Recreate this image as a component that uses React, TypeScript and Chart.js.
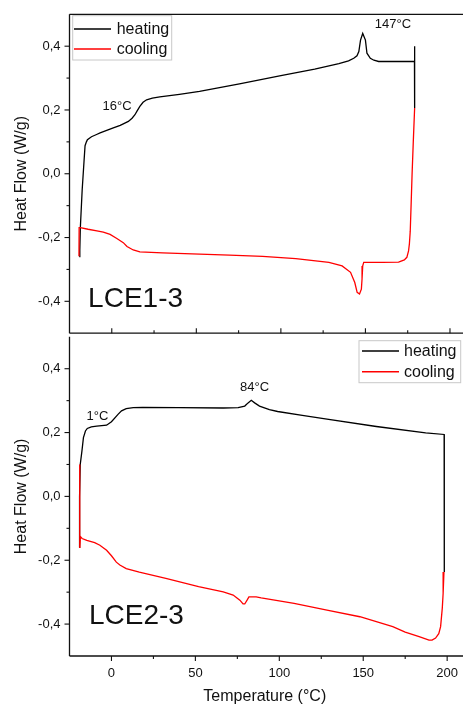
import React, { useEffect, useRef } from "react";
import { Chart, registerables } from "chart.js";

Chart.register(...registerables);

const FONT = '"Liberation Sans", Arial, Helvetica, sans-serif';

// ---- axis ticks ----
const xTicks = [0, 50, 100, 150, 200];
const xMinorTicks = [25, 75, 125, 175];
const yTicks = [-0.4, -0.2, 0, 0.2, 0.4];
const yMinorTicks = [-0.3, -0.1, 0.1, 0.3];
const seriesNames = ["heating", "cooling"];
const xTitle = "Temperature (°C)";
const yTitle = "Heat Flow (W/g)";

// ---- LCE1-3 ----
const lce1HeatT = [-19.2, -18.9, -18.6, -17.5, -16.4, -15.8, -15, -14.4, -12, -9, -6.9, -3, 0.9, 5, 9.8, 12, 13.7, 15, 16.6, 18.5, 20.6, 24, 28.4, 40, 51.9, 75.5, 100, 120, 134.3, 140, 143.1, 145, 146.1, 147.1, 148.4, 150, 150.9, 152.9, 155, 157.8, 170, 179, 179.1, 179.1];
const lce1HeatQ = [-0.26, -0.24, -0.17, -0.05, 0.04, 0.088, 0.1, 0.107, 0.116, 0.123, 0.128, 0.136, 0.144, 0.152, 0.164, 0.174, 0.185, 0.197, 0.211, 0.224, 0.232, 0.237, 0.241, 0.249, 0.258, 0.282, 0.308, 0.328, 0.345, 0.354, 0.362, 0.37, 0.383, 0.419, 0.44, 0.419, 0.378, 0.362, 0.356, 0.352, 0.352, 0.352, 0.4, 0.206];
const lce1CoolT = [179.1, 178.3, 177.6, 177, 176.5, 176, 175.5, 174.5, 173, 169.6, 160, 149, 148.4, 148, 147.6, 146.5, 145.1, 143.7, 141.2, 136.2, 128.4, 108.8, 89.2, 69.6, 51.9, 30, 16.6, 12.7, 9, 6.8, 3, -1, -5, -8.8, -14, -18.6, -19.3, -19.4];
const lce1CoolQ = [0.206, 0.1, 0.0, -0.1, -0.18, -0.22, -0.242, -0.262, -0.27, -0.277, -0.278, -0.278, -0.289, -0.33, -0.362, -0.377, -0.372, -0.341, -0.309, -0.289, -0.278, -0.266, -0.259, -0.255, -0.252, -0.248, -0.245, -0.239, -0.228, -0.216, -0.203, -0.19, -0.183, -0.179, -0.174, -0.169, -0.169, -0.259];

// ---- LCE2-3 ----
const lce2HeatT = [-19.2, -19, -18.6, -17.6, -16.7, -15.5, -14.4, -12, -8.8, -2.9, 0, 3.9, 6, 8.8, 13, 18.6, 40, 66.6, 75.5, 79.4, 81.4, 83.3, 85.3, 88.2, 94.1, 99, 113.7, 128.4, 157.8, 187.2, 198.2, 198.3];
const lce2HeatQ = [-0.16, 0.0, 0.1, 0.142, 0.184, 0.205, 0.213, 0.218, 0.22, 0.223, 0.234, 0.257, 0.268, 0.275, 0.278, 0.279, 0.278, 0.277, 0.278, 0.283, 0.293, 0.301, 0.293, 0.283, 0.272, 0.266, 0.254, 0.242, 0.219, 0.199, 0.194, -0.237];
const lce2CoolT = [198.1, 197.6, 197.1, 196.1, 195, 193.1, 191, 189.2, 183.3, 175, 167.6, 148, 128.4, 108.8, 89.2, 86.2, 81.9, 80.8, 79.4, 78.4, 76.5, 72.5, 66.6, 51.9, 32.4, 16.6, 8.8, 5, 2.9, 0, -2.9, -6.9, -10, -14.7, -17.5, -18.5, -18.8, -18.9];
const lce2CoolQ = [-0.237, -0.304, -0.35, -0.408, -0.43, -0.444, -0.45, -0.45, -0.439, -0.425, -0.408, -0.377, -0.356, -0.335, -0.318, -0.315, -0.315, -0.325, -0.337, -0.337, -0.325, -0.309, -0.299, -0.283, -0.257, -0.237, -0.226, -0.215, -0.206, -0.186, -0.169, -0.153, -0.145, -0.138, -0.132, -0.126, -0.16, 0.1];

// ---- annotations (data coordinates) ----
const lce1Notes = [
  { text: "16°C", x: 3.1, y: 0.21 },
  { text: "147°C", x: 166.3, y: 0.467 },
];
const lce2Notes = [
  { text: "1°C", x: -8.4, y: 0.251 },
  { text: "84°C", x: 85.3, y: 0.34 },
];

const X_MIN = -25;
const X_MAX = 207.7;
const W = 463;

const zip = (xs: number[], ys: number[]) => xs.map((x, i) => ({ x, y: ys[i] }));
const fmt = (v: number) => v.toFixed(1).replace(".", ",");

type PanelSpec = {
  heatT: number[]; heatQ: number[]; coolT: number[]; coolQ: number[];
  notes: { text: string; x: number; y: number }[];
  label: string; labelX: number; labelY: number;
  legend: { left: number; top: number; w: number; h: number; lineX0: number; lineX1: number; textX: number; rows: number[] };
  isBottom: boolean;
  padTop: number; padBottom: number;
};

function makePlugin(spec: PanelSpec) {
  return {
    id: "frame",
    afterDraw(chart: any) {
      const { ctx, chartArea } = chart;
      const { left, top, bottom } = chartArea;
      const x = chart.scales.x;
      const y = chart.scales.y;
      const line = (a: number, b: number, c: number, d: number) => {
        ctx.beginPath();
        ctx.moveTo(a, b);
        ctx.lineTo(c, d);
        ctx.stroke();
      };
      ctx.save();
      ctx.strokeStyle = "#111";
      ctx.lineWidth = 1.3;
      line(left, top, left, bottom);
      if (!spec.isBottom) line(left, top, chart.width, top);
      line(left, bottom, chart.width, bottom);
      ctx.lineWidth = 1.1;
      yTicks.forEach((v) => { const p = y.getPixelForValue(v); line(left - 5, p, left, p); });
      yMinorTicks.forEach((v) => { const p = y.getPixelForValue(v); line(left - 3, p, left, p); });
      const dir = spec.isBottom ? 1 : -1;
      xTicks.forEach((v) => { const p = x.getPixelForValue(v); line(p, bottom, p, bottom + dir * 5); });
      xMinorTicks.forEach((v) => { const p = x.getPixelForValue(v); line(p, bottom, p, bottom + dir * 3); });

      ctx.fillStyle = "#111";
      ctx.font = `13px ${FONT}`;
      ctx.textAlign = "center";
      ctx.textBaseline = "middle";
      spec.notes.forEach((n) => ctx.fillText(n.text, x.getPixelForValue(n.x), y.getPixelForValue(n.y)));

      ctx.font = `28px ${FONT}`;
      ctx.textAlign = "left";
      ctx.textBaseline = "alphabetic";
      ctx.fillText(spec.label, x.getPixelForValue(spec.labelX), y.getPixelForValue(spec.labelY));

      const L = spec.legend;
      ctx.strokeStyle = "#c8c8c8";
      ctx.lineWidth = 1;
      ctx.strokeRect(L.left, L.top, L.w, L.h);
      ctx.font = `16px ${FONT}`;
      ctx.textBaseline = "middle";
      chart.data.datasets.forEach((ds: any, i: number) => {
        ctx.strokeStyle = ds.borderColor;
        ctx.lineWidth = 1.5;
        line(L.lineX0, L.rows[i], L.lineX1, L.rows[i]);
        ctx.fillStyle = "#111";
        ctx.fillText(ds.label, L.textX, L.rows[i] + 1);
      });
      ctx.restore();
    },
  };
}

function buildConfig(spec: PanelSpec): any {
  const datasets = [
    { label: seriesNames[0], data: zip(spec.heatT, spec.heatQ), borderColor: "#000000", order: 1 },
    { label: seriesNames[1], data: zip(spec.coolT, spec.coolQ), borderColor: "#ff0000", order: 0 },
  ].map((d) => ({ ...d, showLine: true, pointRadius: 0, borderWidth: 1.3, tension: 0, fill: false }));
  return {
    type: "scatter",
    data: { datasets },
    options: {
      animation: false,
      responsive: false,
      maintainAspectRatio: false,
      layout: { padding: { left: 0, right: 0, top: spec.padTop, bottom: spec.padBottom } },
      plugins: { legend: { display: false }, tooltip: { enabled: false } },
      scales: {
        x: {
          type: "linear",
          display: spec.isBottom,
          min: X_MIN,
          max: X_MAX,
          afterBuildTicks: (s: any) => { s.ticks = xTicks.map((v) => ({ value: v })); },
          afterFit: (s: any) => { if (spec.isBottom) s.height = 48; },
          grid: { display: false, drawTicks: true, tickLength: 5 },
          border: { display: false },
          ticks: { font: { family: FONT, size: 13 }, color: "#111", padding: 5, maxRotation: 0, autoSkip: false, callback: (v: any) => String(v) },
          title: { display: true, text: xTitle, font: { family: FONT, size: 16 }, color: "#111", padding: { top: 0, bottom: -2 } },
        },
        y: {
          type: "linear",
          min: -0.5,
          max: 0.5,
          afterBuildTicks: (s: any) => { s.ticks = yTicks.map((v) => ({ value: v })); },
          afterFit: (s: any) => { s.width = 69.5; },
          grid: { display: false, drawTicks: true, tickLength: 5 },
          border: { display: false },
          ticks: { font: { family: FONT, size: 13 }, color: "#111", padding: 4, callback: (v: any) => fmt(Number(v)) },
          title: { display: true, text: yTitle, font: { family: FONT, size: 16 }, color: "#111", padding: { top: 12, bottom: 0 } },
        },
      },
    },
    plugins: [makePlugin(spec)],
  };
}

function Panel({ spec, top, height }: { spec: PanelSpec; top: number; height: number }) {
  const ref = useRef<HTMLCanvasElement>(null);
  useEffect(() => {
    const chart = new Chart(ref.current as HTMLCanvasElement, buildConfig(spec));
    return () => chart.destroy();
  }, []);
  return (
    <canvas
      ref={ref}
      width={W}
      height={height}
      style={{ position: "absolute", left: 0, top, width: W, height, display: "block" }}
    />
  );
}

// top canvas: 0..345, chart area 14.3..335
const topSpec: PanelSpec = {
  heatT: lce1HeatT, heatQ: lce1HeatQ, coolT: lce1CoolT, coolQ: lce1CoolQ,
  notes: lce1Notes,
  label: "LCE1-3", labelX: -14, labelY: -0.418,
  legend: { left: 72.7, top: 15.7, w: 99, h: 44.3, lineX0: 74, lineX1: 111, textX: 116.7, rows: [29, 49] },
  isBottom: false,
  padTop: 14.3, padBottom: 10,
};

// bottom canvas: 325..704, chart area 335..656
const bottomSpec: PanelSpec = {
  heatT: lce2HeatT, heatQ: lce2HeatQ, coolT: lce2CoolT, coolQ: lce2CoolQ,
  notes: lce2Notes,
  label: "LCE2-3", labelX: -13.4, labelY: -0.4006,
  legend: { left: 359, top: 15.7, w: 101.7, h: 42, lineX0: 362, lineX1: 399, textX: 404, rows: [26, 46.7] },
  isBottom: true,
  padTop: 10, padBottom: 0,
};

export default function App() {
  return (
    <div style={{ position: "absolute", left: 0, top: 0, width: W, height: 704, overflow: "hidden", background: "#fff" }}>
      <Panel spec={topSpec} top={0} height={345} />
      <Panel spec={bottomSpec} top={325} height={379} />
    </div>
  );
}
